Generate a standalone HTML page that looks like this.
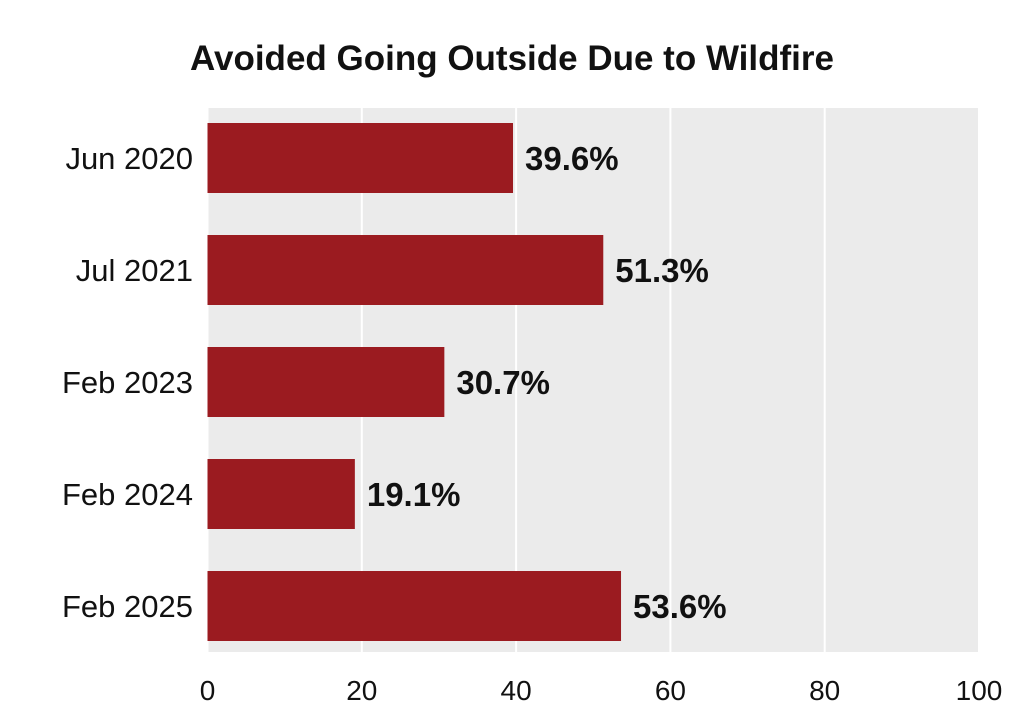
<!DOCTYPE html>
<html><head><meta charset="utf-8"><style>
body{margin:0;background:#fff;}
svg text{font-family:"Liberation Sans",sans-serif;}
</style></head><body>
<svg id="chart" width="1024" height="718" viewBox="0 0 1024 718">
<text x="512" y="70" text-anchor="middle" font-size="35" font-weight="bold" fill="#111">Avoided Going Outside Due to Wildfire</text>
<g id="g"></g>
</svg>
<script>
const categories=["Jun 2020","Jul 2021","Feb 2023","Feb 2024","Feb 2025"];
const values=[39.6,51.3,30.7,19.1,53.6];
const ticks=[0,20,40,60,80,100];
const x0=207.5,x1=979,plotTop=108,plotBottom=652,pitch=112,bh=70,first=123;
const xs=v=>x0+(x1-x0)*v/100;
const g=document.getElementById('g');
const NS="http://www.w3.org/2000/svg";
function mk(t,a){const e=document.createElementNS(NS,t);for(const k in a)e.setAttribute(k,a[k]);g.appendChild(e);return e;}
let bg=mk('rect',{x:x0,y:plotTop,width:x1-x0,height:plotBottom-plotTop,fill:'#ebebeb'});


ticks.forEach(t=>{
 let l=mk('line',{x1:xs(t),x2:xs(t),y1:plotTop,y2:plotBottom,stroke:'#fff','stroke-width':2});
 
 
 let tx=mk('text',{x:xs(t),y:700,'text-anchor':'middle','font-size':28,fill:'#111'});
 tx.textContent=t;
 
 
});
categories.forEach((c,i)=>{
 const y=first+i*pitch;
 let r=mk('rect',{x:x0,y:y,width:xs(values[i])-x0,height:bh,fill:'#9b1b20'});
 
 
 let lb=mk('text',{x:193,y:y+bh/2+11,'text-anchor':'end','font-size':31,fill:'#111'});
 lb.textContent=c;
 
 
 let v=mk('text',{x:xs(values[i])+12,y:y+bh/2+12,'font-size':33,'font-weight':'bold',fill:'#111'});
 v.textContent=values[i].toFixed(1)+'%';
 
 
});
</script>
</body></html>
